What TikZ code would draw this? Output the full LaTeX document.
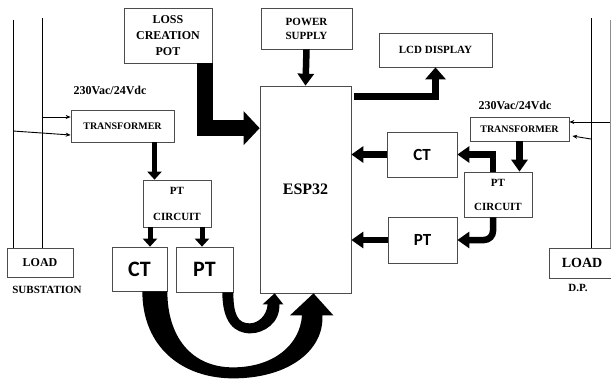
\documentclass[tikz,border=0pt]{standalone}
\usepackage{fontspec}
\setmainfont{Liberation Serif}
\newfontfamily\ctfont{Carlito}
\usetikzlibrary{arrows.meta,calc}
\tikzset{>=stealth}
\tikzset{
  blk/.style={draw=black!70,line width=0.7pt,inner sep=0pt,align=center},
  fat/.style={line width=16pt,-{Triangle[length=16pt,width=33pt]}},
  mid/.style={line width=6.5pt,-{Triangle[length=12pt,width=16pt]}},
  slim/.style={line width=5pt,-{Triangle[length=8pt,width=14pt]}},
  feed/.style={line width=0.9pt,-{Stealth[length=5pt,width=4pt]}},
  rail/.style={line width=0.9pt},
}

\begin{document}
\begin{tikzpicture}[x=1pt,y=-1pt]
    \useasboundingbox (0,0) rectangle (611,381);
    % blocks
    \node[blk,minimum width=88pt,minimum height=55pt,font=\bfseries\fontsize{12}{16}\selectfont] (pot) at (168,35.5) {LOSS\\CREATION\\POT};
    \node[blk,minimum width=91pt,minimum height=41pt,font=\bfseries\fontsize{11}{14}\selectfont] (power) at (306.5,28.5) {POWER\\SUPPLY};
    \node[blk,minimum width=113pt,minimum height=34pt,font=\bfseries\fontsize{11}{13}\selectfont] (lcd) at (435.5,50) {LCD DISPLAY};
    \node[blk,minimum width=91pt,minimum height=207pt,font=\bfseries\fontsize{16}{18}\selectfont] (esp) at (305.5,189.5) {ESP32};
    \node[blk,minimum width=103pt,minimum height=32pt,font=\bfseries\fontsize{10}{12}\selectfont] (trL) at (122.5,126) {TRANSFORMER};
    \node[blk,minimum width=68pt,minimum height=47pt,font=\bfseries\fontsize{11}{26}\selectfont] (pcL) at (177,203.5) {PT\\CIRCUIT};
    \node[blk,minimum width=55pt,minimum height=44pt,font=\ctfont\bfseries\fontsize{22}{24}\selectfont] (ctL) at (139.5,269) {CT};
    \node[blk,minimum width=57pt,minimum height=45pt,font=\ctfont\bfseries\fontsize{22}{24}\selectfont] (ptL) at (204.5,269.5) {PT};
    \node[blk,minimum width=66pt,minimum height=29pt,font=\bfseries\fontsize{12}{14}\selectfont] (loadL) at (40,262.5) {LOAD};
    \node[blk,minimum width=70pt,minimum height=45pt,font=\ctfont\bfseries\fontsize{17}{19}\selectfont] (ctR) at (422,154.5) {CT};
    \node[blk,minimum width=69pt,minimum height=46pt,font=\ctfont\bfseries\fontsize{17}{19}\selectfont] (ptR) at (422.5,240) {PT};
    \node[blk,minimum width=99pt,minimum height=24pt,font=\bfseries\fontsize{10}{12}\selectfont] (trR) at (519.5,129) {TRANSFORMER};
    \node[blk,minimum width=68pt,minimum height=45pt,font=\bfseries\fontsize{11}{24}\selectfont] (pcR) at (498,194.5) {PT\\CIRCUIT};
    \node[blk,minimum width=66pt,minimum height=30pt,font=\bfseries\fontsize{14}{16}\selectfont] (loadR) at (582,263) {LOAD};
    % labels
    \node[font=\bfseries\fontsize{12}{14}\selectfont] (vL) at (110,90) {230Vac/24Vdc};
    \node[font=\bfseries\fontsize{12}{14}\selectfont] (vR) at (515,105) {230Vac/24Vdc};
    \node[font=\bfseries\fontsize{11}{13}\selectfont] (subst) at (47,290) {SUBSTATION};
    \node[font=\bfseries\fontsize{11}{13}\selectfont] (dp) at (578,288) {D.P.};
    % supply lines
    \coordinate (railA) at (13,20);
    \coordinate (railB) at (42,18);
    \coordinate (railC) at (591,18);
    \coordinate (railD) at (610,20);
    \draw[rail] (railA) -- (railA |- loadL.north);
    \draw[rail] (railB) -- (railB |- loadL.north);
    \draw[rail] (railC) -- (railC |- loadR.north);
    \draw[rail,draw=black!45] (railD) -- (railD |- loadR.north);
    \coordinate (inL1) at ([yshift=9pt]trL.west);
    \coordinate (inL2) at ([yshift=-9pt]trL.west);
    \coordinate (inR1) at ([yshift=7pt]trR.east);
    \coordinate (inR2) at ([xshift=3pt,yshift=-7pt]trR.east);
    \draw[feed] (railB |- inL1) -- (inL1);
    \draw[feed] ($(railA |- inL2)+(0,-4)$) -- (inL2);
    \draw[feed] (railD |- inR1) -- (inR1);
    \draw[feed] ($(railC |- inR2)+(0,3)$) -- (inR2);
    % straight arrows
    \coordinate (potout) at ([xshift=-7pt]pot.south east);
    \coordinate (potin) at ($(esp.north west)+(0,42.5)$);
    \draw[fat] (potout) |- (potin);
    \draw[mid] (power.south) -- (esp.north);
    \draw[mid,line width=7pt,-{Triangle[length=12pt,width=20pt]}] ($(esp.north east)+(3,11)$) -| (lcd.south);
    \draw[mid] (ctR.west) -- (ctR.west -| esp.east);
    \draw[mid] (ptR.west) -- (ptR.west -| esp.east);
    \draw[mid] (trR.south) -- (trR.south |- pcR.north);
    \coordinate (pcRa) at ([xshift=-5pt]pcR.north);
    \coordinate (pcRb) at ([xshift=-5pt]pcR.south);
    \draw[mid] (pcRa) |- (ctR.east);
    \draw[mid,rounded corners=9pt] (pcRb) |- (ptR.east);
    \coordinate (trLout) at ([xshift=32pt]trL.south);
    \coordinate (pcLa) at ([xshift=-27pt]pcL.south);
    \coordinate (pcLb) at ([xshift=25pt]pcL.south);
    \draw[slim] (trLout) -- (trLout |- pcL.north);
    \draw[slim] (pcLa) -- (pcLa |- ctL.north);
    \draw[slim] (pcLb) -- (pcLb |- ptL.north);
    % curved arrows into the ESP32
    \coordinate (b0) at ([xshift=-25pt]ctL.south east);
    \coordinate (bt) at ([xshift=8pt]esp.south);
    \fill (b0) .. controls +(0,55) and +(-52,0) .. ++(91,87)
        .. controls +(55,0) and +(2,35) .. ++(89,-63)
        -- ++(11,0) -- (bt) -- ++(-23.5,22) -- ++(12,0)
        .. controls +(-2,30) and +(40,0) .. ++(-69,52)
        .. controls +(-42,0) and +(0,45) .. (ctL.south east) -- cycle;
    \coordinate (s0) at ([xshift=-11pt]ptL.south east);
    \coordinate (st) at ([xshift=15pt]esp.south west);
    \fill (s0) .. controls +(0,30) and +(-16,0) .. ++(28,41)
        .. controls +(14,0) and +(1,18) .. ++(29,-29)
        -- ++(4,0) -- (st) -- ++(-12,11) -- ++(5,0)
        .. controls +(-1,12) and +(8,0) .. ++(-18,19)
        .. controls +(-12,0) and +(0,22) .. (ptL.south east) -- cycle;
\end{tikzpicture}
\end{document}
